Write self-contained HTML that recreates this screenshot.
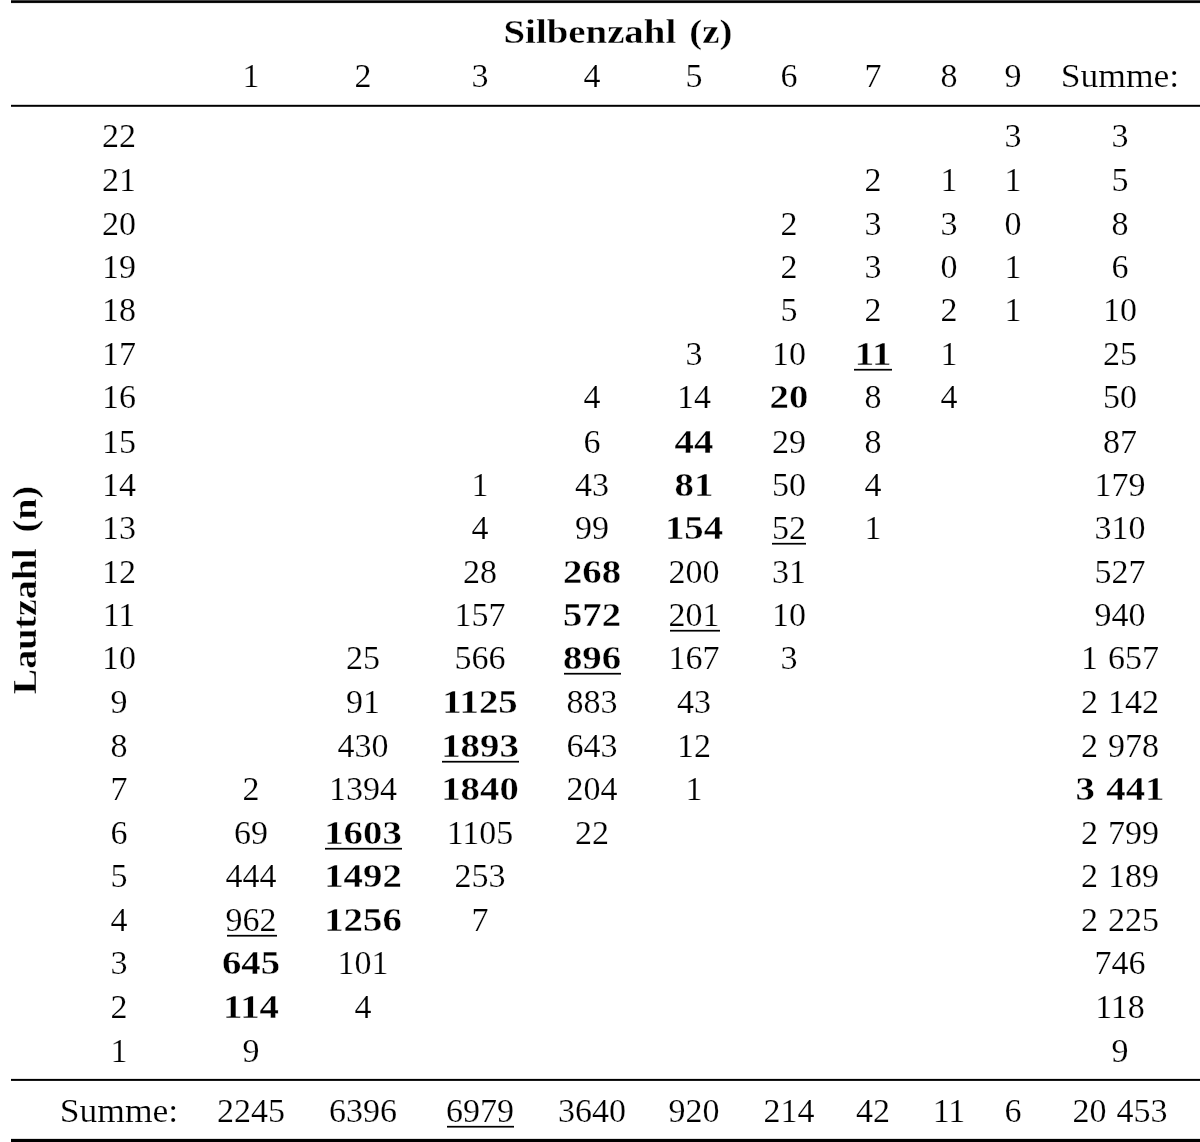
<!DOCTYPE html>
<html><head><meta charset="utf-8"><style>
html,body{margin:0;padding:0;background:#fff;}
body{width:1200px;height:1142px;position:relative;overflow:hidden;font-family:"Liberation Serif",serif;color:#000;}
#w{position:absolute;left:0;top:0;width:1200px;height:1142px;will-change:transform;}
.c{position:absolute;width:300px;text-align:center;white-space:nowrap;}
.ul{position:absolute;left:0;right:0;background:#000;display:block;}
.r{position:absolute;background:#000;}
.rot{position:absolute;white-space:nowrap;font-weight:bold;}
</style></head><body><div id="w">
<div class="r" style="left:11px;top:0;width:1189px;height:1px;background:#454545"></div>
<div class="r" style="left:11px;top:1px;width:1189px;height:1px"></div>
<div class="r" style="left:11px;top:2px;width:1189px;height:1px;background:#111"></div>
<div class="r" style="left:11px;top:3px;width:1189px;height:1px;background:#ececec"></div>
<div class="r" style="left:11px;top:104px;width:1189px;height:1px;background:#d0d0d0"></div>
<div class="r" style="left:11px;top:105px;width:1189px;height:1px"></div>
<div class="r" style="left:11px;top:106px;width:1189px;height:1px;background:#333"></div>
<div class="r" style="left:11px;top:1078px;width:1189px;height:1px;background:#e4e4e4"></div>
<div class="r" style="left:11px;top:1079px;width:1189px;height:1px"></div>
<div class="r" style="left:11px;top:1080px;width:1189px;height:1px;background:#1a1a1a"></div>
<div class="r" style="left:11px;top:1138px;width:1189px;height:1px;background:#e0e0e0"></div>
<div class="r" style="left:11px;top:1139px;width:1189px;height:3px"></div>
<div class="rot" style="left:35.50px;top:561.84px;width:300px;text-align:center;-webkit-text-stroke:0.3px #fff;font-size:33.5px;line-height:33.5px;transform:translate(-150px,0) rotate(-90deg) scale(1.134,1);transform-origin:150px 28.06px;">Lautzahl<i style="display:inline-block;width:14.2px"></i>(n)</div>
<div class="c" style="left:467.60px;top:16.00px;font-size:33px;line-height:33px;font-weight:bold;-webkit-text-stroke:0.3px #fff;transform:scale(1.177,1);transform-origin:150px 27.64px;">Silbenzahl<i style="display:inline-block;width:11.2px"></i>(z)</div>
<div class="c" style="left:101.30px;top:58.00px;font-size:34.6px;line-height:34.6px;-webkit-text-stroke:0.2px #fff;transform:scale(0.983,1);transform-origin:150px 28.98px;">1</div>
<div class="c" style="left:212.85px;top:58.00px;font-size:34.6px;line-height:34.6px;-webkit-text-stroke:0.2px #fff;transform:scale(0.983,1);transform-origin:150px 28.98px;">2</div>
<div class="c" style="left:330.15px;top:58.00px;font-size:34.6px;line-height:34.6px;-webkit-text-stroke:0.2px #fff;transform:scale(0.983,1);transform-origin:150px 28.98px;">3</div>
<div class="c" style="left:442.15px;top:58.00px;font-size:34.6px;line-height:34.6px;-webkit-text-stroke:0.2px #fff;transform:scale(0.983,1);transform-origin:150px 28.98px;">4</div>
<div class="c" style="left:544.20px;top:58.00px;font-size:34.6px;line-height:34.6px;-webkit-text-stroke:0.2px #fff;transform:scale(0.983,1);transform-origin:150px 28.98px;">5</div>
<div class="c" style="left:638.60px;top:58.00px;font-size:34.6px;line-height:34.6px;-webkit-text-stroke:0.2px #fff;transform:scale(0.983,1);transform-origin:150px 28.98px;">6</div>
<div class="c" style="left:722.80px;top:58.00px;font-size:34.6px;line-height:34.6px;-webkit-text-stroke:0.2px #fff;transform:scale(0.983,1);transform-origin:150px 28.98px;">7</div>
<div class="c" style="left:798.50px;top:58.00px;font-size:34.6px;line-height:34.6px;-webkit-text-stroke:0.2px #fff;transform:scale(0.983,1);transform-origin:150px 28.98px;">8</div>
<div class="c" style="left:863.40px;top:58.00px;font-size:34.6px;line-height:34.6px;-webkit-text-stroke:0.2px #fff;transform:scale(0.983,1);transform-origin:150px 28.98px;">9</div>
<div class="c" style="left:970.30px;top:58.00px;font-size:34.6px;line-height:34.6px;-webkit-text-stroke:0.2px #fff;transform:scale(1.027,1);transform-origin:150px 28.98px;">Summe:</div>
<div class="c" style="left:-31.30px;top:118.00px;font-size:34.6px;line-height:34.6px;-webkit-text-stroke:0.2px #fff;transform:scale(0.983,1);transform-origin:150px 28.98px;">22</div>
<div class="c" style="left:863.40px;top:118.00px;font-size:34.6px;line-height:34.6px;-webkit-text-stroke:0.2px #fff;transform:scale(0.983,1);transform-origin:150px 28.98px;">3</div>
<div class="c" style="left:970.30px;top:118.00px;font-size:34.6px;line-height:34.6px;-webkit-text-stroke:0.2px #fff;transform:scale(0.983,1);transform-origin:150px 28.98px;">3</div>
<div class="c" style="left:-31.30px;top:162.00px;font-size:34.6px;line-height:34.6px;-webkit-text-stroke:0.2px #fff;transform:scale(0.983,1);transform-origin:150px 28.98px;">21</div>
<div class="c" style="left:722.80px;top:162.00px;font-size:34.6px;line-height:34.6px;-webkit-text-stroke:0.2px #fff;transform:scale(0.983,1);transform-origin:150px 28.98px;">2</div>
<div class="c" style="left:798.50px;top:162.00px;font-size:34.6px;line-height:34.6px;-webkit-text-stroke:0.2px #fff;transform:scale(0.983,1);transform-origin:150px 28.98px;">1</div>
<div class="c" style="left:863.40px;top:162.00px;font-size:34.6px;line-height:34.6px;-webkit-text-stroke:0.2px #fff;transform:scale(0.983,1);transform-origin:150px 28.98px;">1</div>
<div class="c" style="left:970.30px;top:162.00px;font-size:34.6px;line-height:34.6px;-webkit-text-stroke:0.2px #fff;transform:scale(0.983,1);transform-origin:150px 28.98px;">5</div>
<div class="c" style="left:-31.30px;top:206.00px;font-size:34.6px;line-height:34.6px;-webkit-text-stroke:0.2px #fff;transform:scale(0.983,1);transform-origin:150px 28.98px;">20</div>
<div class="c" style="left:638.60px;top:206.00px;font-size:34.6px;line-height:34.6px;-webkit-text-stroke:0.2px #fff;transform:scale(0.983,1);transform-origin:150px 28.98px;">2</div>
<div class="c" style="left:722.80px;top:206.00px;font-size:34.6px;line-height:34.6px;-webkit-text-stroke:0.2px #fff;transform:scale(0.983,1);transform-origin:150px 28.98px;">3</div>
<div class="c" style="left:798.50px;top:206.00px;font-size:34.6px;line-height:34.6px;-webkit-text-stroke:0.2px #fff;transform:scale(0.983,1);transform-origin:150px 28.98px;">3</div>
<div class="c" style="left:863.40px;top:206.00px;font-size:34.6px;line-height:34.6px;-webkit-text-stroke:0.2px #fff;transform:scale(0.983,1);transform-origin:150px 28.98px;">0</div>
<div class="c" style="left:970.30px;top:206.00px;font-size:34.6px;line-height:34.6px;-webkit-text-stroke:0.2px #fff;transform:scale(0.983,1);transform-origin:150px 28.98px;">8</div>
<div class="c" style="left:-31.30px;top:249.00px;font-size:34.6px;line-height:34.6px;-webkit-text-stroke:0.2px #fff;transform:scale(0.983,1);transform-origin:150px 28.98px;">19</div>
<div class="c" style="left:638.60px;top:249.00px;font-size:34.6px;line-height:34.6px;-webkit-text-stroke:0.2px #fff;transform:scale(0.983,1);transform-origin:150px 28.98px;">2</div>
<div class="c" style="left:722.80px;top:249.00px;font-size:34.6px;line-height:34.6px;-webkit-text-stroke:0.2px #fff;transform:scale(0.983,1);transform-origin:150px 28.98px;">3</div>
<div class="c" style="left:798.50px;top:249.00px;font-size:34.6px;line-height:34.6px;-webkit-text-stroke:0.2px #fff;transform:scale(0.983,1);transform-origin:150px 28.98px;">0</div>
<div class="c" style="left:863.40px;top:249.00px;font-size:34.6px;line-height:34.6px;-webkit-text-stroke:0.2px #fff;transform:scale(0.983,1);transform-origin:150px 28.98px;">1</div>
<div class="c" style="left:970.30px;top:249.00px;font-size:34.6px;line-height:34.6px;-webkit-text-stroke:0.2px #fff;transform:scale(0.983,1);transform-origin:150px 28.98px;">6</div>
<div class="c" style="left:-31.30px;top:292.00px;font-size:34.6px;line-height:34.6px;-webkit-text-stroke:0.2px #fff;transform:scale(0.983,1);transform-origin:150px 28.98px;">18</div>
<div class="c" style="left:638.60px;top:292.00px;font-size:34.6px;line-height:34.6px;-webkit-text-stroke:0.2px #fff;transform:scale(0.983,1);transform-origin:150px 28.98px;">5</div>
<div class="c" style="left:722.80px;top:292.00px;font-size:34.6px;line-height:34.6px;-webkit-text-stroke:0.2px #fff;transform:scale(0.983,1);transform-origin:150px 28.98px;">2</div>
<div class="c" style="left:798.50px;top:292.00px;font-size:34.6px;line-height:34.6px;-webkit-text-stroke:0.2px #fff;transform:scale(0.983,1);transform-origin:150px 28.98px;">2</div>
<div class="c" style="left:863.40px;top:292.00px;font-size:34.6px;line-height:34.6px;-webkit-text-stroke:0.2px #fff;transform:scale(0.983,1);transform-origin:150px 28.98px;">1</div>
<div class="c" style="left:970.30px;top:292.00px;font-size:34.6px;line-height:34.6px;-webkit-text-stroke:0.2px #fff;transform:scale(0.983,1);transform-origin:150px 28.98px;">10</div>
<div class="c" style="left:-31.30px;top:336.00px;font-size:34.6px;line-height:34.6px;-webkit-text-stroke:0.2px #fff;transform:scale(0.983,1);transform-origin:150px 28.98px;">17</div>
<div class="c" style="left:544.20px;top:336.00px;font-size:34.6px;line-height:34.6px;-webkit-text-stroke:0.2px #fff;transform:scale(0.983,1);transform-origin:150px 28.98px;">3</div>
<div class="c" style="left:638.60px;top:336.00px;font-size:34.6px;line-height:34.6px;-webkit-text-stroke:0.2px #fff;transform:scale(0.983,1);transform-origin:150px 28.98px;">10</div>
<div class="c" style="left:722.80px;top:337.00px;font-size:34px;line-height:34px;font-weight:bold;-webkit-text-stroke:0.35px #fff;transform:scale(1.14,1);transform-origin:150px 28.48px;">11</div>
<div class="r" style="left:853.90px;top:368px;width:38.60px;height:1px;background:#dcdcdc"></div>
<div class="r" style="left:853.90px;top:369px;width:38.60px;height:1px;background:#000"></div>
<div class="r" style="left:853.90px;top:370px;width:38.60px;height:1px;background:#6a6a6a"></div>
<div class="c" style="left:798.50px;top:336.00px;font-size:34.6px;line-height:34.6px;-webkit-text-stroke:0.2px #fff;transform:scale(0.983,1);transform-origin:150px 28.98px;">1</div>
<div class="c" style="left:970.30px;top:336.00px;font-size:34.6px;line-height:34.6px;-webkit-text-stroke:0.2px #fff;transform:scale(0.983,1);transform-origin:150px 28.98px;">25</div>
<div class="c" style="left:-31.30px;top:379.00px;font-size:34.6px;line-height:34.6px;-webkit-text-stroke:0.2px #fff;transform:scale(0.983,1);transform-origin:150px 28.98px;">16</div>
<div class="c" style="left:442.15px;top:379.00px;font-size:34.6px;line-height:34.6px;-webkit-text-stroke:0.2px #fff;transform:scale(0.983,1);transform-origin:150px 28.98px;">4</div>
<div class="c" style="left:544.20px;top:379.00px;font-size:34.6px;line-height:34.6px;-webkit-text-stroke:0.2px #fff;transform:scale(0.983,1);transform-origin:150px 28.98px;">14</div>
<div class="c" style="left:638.60px;top:380.00px;font-size:34px;line-height:34px;font-weight:bold;-webkit-text-stroke:0.35px #fff;transform:scale(1.14,1);transform-origin:150px 28.48px;">20</div>
<div class="c" style="left:722.80px;top:379.00px;font-size:34.6px;line-height:34.6px;-webkit-text-stroke:0.2px #fff;transform:scale(0.983,1);transform-origin:150px 28.98px;">8</div>
<div class="c" style="left:798.50px;top:379.00px;font-size:34.6px;line-height:34.6px;-webkit-text-stroke:0.2px #fff;transform:scale(0.983,1);transform-origin:150px 28.98px;">4</div>
<div class="c" style="left:970.30px;top:379.00px;font-size:34.6px;line-height:34.6px;-webkit-text-stroke:0.2px #fff;transform:scale(0.983,1);transform-origin:150px 28.98px;">50</div>
<div class="c" style="left:-31.30px;top:424.00px;font-size:34.6px;line-height:34.6px;-webkit-text-stroke:0.2px #fff;transform:scale(0.983,1);transform-origin:150px 28.98px;">15</div>
<div class="c" style="left:442.15px;top:424.00px;font-size:34.6px;line-height:34.6px;-webkit-text-stroke:0.2px #fff;transform:scale(0.983,1);transform-origin:150px 28.98px;">6</div>
<div class="c" style="left:544.20px;top:425.00px;font-size:34px;line-height:34px;font-weight:bold;-webkit-text-stroke:0.35px #fff;transform:scale(1.14,1);transform-origin:150px 28.48px;">44</div>
<div class="c" style="left:638.60px;top:424.00px;font-size:34.6px;line-height:34.6px;-webkit-text-stroke:0.2px #fff;transform:scale(0.983,1);transform-origin:150px 28.98px;">29</div>
<div class="c" style="left:722.80px;top:424.00px;font-size:34.6px;line-height:34.6px;-webkit-text-stroke:0.2px #fff;transform:scale(0.983,1);transform-origin:150px 28.98px;">8</div>
<div class="c" style="left:970.30px;top:424.00px;font-size:34.6px;line-height:34.6px;-webkit-text-stroke:0.2px #fff;transform:scale(0.983,1);transform-origin:150px 28.98px;">87</div>
<div class="c" style="left:-31.30px;top:467.00px;font-size:34.6px;line-height:34.6px;-webkit-text-stroke:0.2px #fff;transform:scale(0.983,1);transform-origin:150px 28.98px;">14</div>
<div class="c" style="left:330.15px;top:467.00px;font-size:34.6px;line-height:34.6px;-webkit-text-stroke:0.2px #fff;transform:scale(0.983,1);transform-origin:150px 28.98px;">1</div>
<div class="c" style="left:442.15px;top:467.00px;font-size:34.6px;line-height:34.6px;-webkit-text-stroke:0.2px #fff;transform:scale(0.983,1);transform-origin:150px 28.98px;">43</div>
<div class="c" style="left:544.20px;top:468.00px;font-size:34px;line-height:34px;font-weight:bold;-webkit-text-stroke:0.35px #fff;transform:scale(1.14,1);transform-origin:150px 28.48px;">81</div>
<div class="c" style="left:638.60px;top:467.00px;font-size:34.6px;line-height:34.6px;-webkit-text-stroke:0.2px #fff;transform:scale(0.983,1);transform-origin:150px 28.98px;">50</div>
<div class="c" style="left:722.80px;top:467.00px;font-size:34.6px;line-height:34.6px;-webkit-text-stroke:0.2px #fff;transform:scale(0.983,1);transform-origin:150px 28.98px;">4</div>
<div class="c" style="left:970.30px;top:467.00px;font-size:34.6px;line-height:34.6px;-webkit-text-stroke:0.2px #fff;transform:scale(0.983,1);transform-origin:150px 28.98px;">179</div>
<div class="c" style="left:-31.30px;top:510.00px;font-size:34.6px;line-height:34.6px;-webkit-text-stroke:0.2px #fff;transform:scale(0.983,1);transform-origin:150px 28.98px;">13</div>
<div class="c" style="left:330.15px;top:510.00px;font-size:34.6px;line-height:34.6px;-webkit-text-stroke:0.2px #fff;transform:scale(0.983,1);transform-origin:150px 28.98px;">4</div>
<div class="c" style="left:442.15px;top:510.00px;font-size:34.6px;line-height:34.6px;-webkit-text-stroke:0.2px #fff;transform:scale(0.983,1);transform-origin:150px 28.98px;">99</div>
<div class="c" style="left:544.20px;top:511.00px;font-size:34px;line-height:34px;font-weight:bold;-webkit-text-stroke:0.35px #fff;transform:scale(1.14,1);transform-origin:150px 28.48px;">154</div>
<div class="c" style="left:638.60px;top:510.00px;font-size:34.6px;line-height:34.6px;-webkit-text-stroke:0.2px #fff;transform:scale(0.983,1);transform-origin:150px 28.98px;">52</div>
<div class="r" style="left:772.30px;top:542px;width:33.40px;height:1px;background:#dcdcdc"></div>
<div class="r" style="left:772.30px;top:543px;width:33.40px;height:1px;background:#000"></div>
<div class="r" style="left:772.30px;top:544px;width:33.40px;height:1px;background:#6a6a6a"></div>
<div class="c" style="left:722.80px;top:510.00px;font-size:34.6px;line-height:34.6px;-webkit-text-stroke:0.2px #fff;transform:scale(0.983,1);transform-origin:150px 28.98px;">1</div>
<div class="c" style="left:970.30px;top:510.00px;font-size:34.6px;line-height:34.6px;-webkit-text-stroke:0.2px #fff;transform:scale(0.983,1);transform-origin:150px 28.98px;">310</div>
<div class="c" style="left:-31.30px;top:554.00px;font-size:34.6px;line-height:34.6px;-webkit-text-stroke:0.2px #fff;transform:scale(0.983,1);transform-origin:150px 28.98px;">12</div>
<div class="c" style="left:330.15px;top:554.00px;font-size:34.6px;line-height:34.6px;-webkit-text-stroke:0.2px #fff;transform:scale(0.983,1);transform-origin:150px 28.98px;">28</div>
<div class="c" style="left:442.15px;top:555.00px;font-size:34px;line-height:34px;font-weight:bold;-webkit-text-stroke:0.35px #fff;transform:scale(1.14,1);transform-origin:150px 28.48px;">268</div>
<div class="c" style="left:544.20px;top:554.00px;font-size:34.6px;line-height:34.6px;-webkit-text-stroke:0.2px #fff;transform:scale(0.983,1);transform-origin:150px 28.98px;">200</div>
<div class="c" style="left:638.60px;top:554.00px;font-size:34.6px;line-height:34.6px;-webkit-text-stroke:0.2px #fff;transform:scale(0.983,1);transform-origin:150px 28.98px;">31</div>
<div class="c" style="left:970.30px;top:554.00px;font-size:34.6px;line-height:34.6px;-webkit-text-stroke:0.2px #fff;transform:scale(0.983,1);transform-origin:150px 28.98px;">527</div>
<div class="c" style="left:-31.30px;top:597.00px;font-size:34.6px;line-height:34.6px;-webkit-text-stroke:0.2px #fff;transform:scale(0.983,1);transform-origin:150px 28.98px;">11</div>
<div class="c" style="left:330.15px;top:597.00px;font-size:34.6px;line-height:34.6px;-webkit-text-stroke:0.2px #fff;transform:scale(0.983,1);transform-origin:150px 28.98px;">157</div>
<div class="c" style="left:442.15px;top:598.00px;font-size:34px;line-height:34px;font-weight:bold;-webkit-text-stroke:0.35px #fff;transform:scale(1.14,1);transform-origin:150px 28.48px;">572</div>
<div class="c" style="left:544.20px;top:597.00px;font-size:34.6px;line-height:34.6px;-webkit-text-stroke:0.2px #fff;transform:scale(0.983,1);transform-origin:150px 28.98px;">201</div>
<div class="r" style="left:669.55px;top:629px;width:50.10px;height:1px;background:#dcdcdc"></div>
<div class="r" style="left:669.55px;top:630px;width:50.10px;height:1px;background:#000"></div>
<div class="r" style="left:669.55px;top:631px;width:50.10px;height:1px;background:#6a6a6a"></div>
<div class="c" style="left:638.60px;top:597.00px;font-size:34.6px;line-height:34.6px;-webkit-text-stroke:0.2px #fff;transform:scale(0.983,1);transform-origin:150px 28.98px;">10</div>
<div class="c" style="left:970.30px;top:597.00px;font-size:34.6px;line-height:34.6px;-webkit-text-stroke:0.2px #fff;transform:scale(0.983,1);transform-origin:150px 28.98px;">940</div>
<div class="c" style="left:-31.30px;top:640.00px;font-size:34.6px;line-height:34.6px;-webkit-text-stroke:0.2px #fff;transform:scale(0.983,1);transform-origin:150px 28.98px;">10</div>
<div class="c" style="left:212.85px;top:640.00px;font-size:34.6px;line-height:34.6px;-webkit-text-stroke:0.2px #fff;transform:scale(0.983,1);transform-origin:150px 28.98px;">25</div>
<div class="c" style="left:330.15px;top:640.00px;font-size:34.6px;line-height:34.6px;-webkit-text-stroke:0.2px #fff;transform:scale(0.983,1);transform-origin:150px 28.98px;">566</div>
<div class="c" style="left:442.15px;top:641.00px;font-size:34px;line-height:34px;font-weight:bold;-webkit-text-stroke:0.35px #fff;transform:scale(1.14,1);transform-origin:150px 28.48px;">896</div>
<div class="r" style="left:563.60px;top:672px;width:57.90px;height:1px;background:#dcdcdc"></div>
<div class="r" style="left:563.60px;top:673px;width:57.90px;height:1px;background:#000"></div>
<div class="r" style="left:563.60px;top:674px;width:57.90px;height:1px;background:#6a6a6a"></div>
<div class="c" style="left:544.20px;top:640.00px;font-size:34.6px;line-height:34.6px;-webkit-text-stroke:0.2px #fff;transform:scale(0.983,1);transform-origin:150px 28.98px;">167</div>
<div class="c" style="left:638.60px;top:640.00px;font-size:34.6px;line-height:34.6px;-webkit-text-stroke:0.2px #fff;transform:scale(0.983,1);transform-origin:150px 28.98px;">3</div>
<div class="c" style="left:970.30px;top:640.00px;font-size:34.6px;line-height:34.6px;-webkit-text-stroke:0.2px #fff;transform:scale(0.983,1);transform-origin:150px 28.98px;">1<i style="display:inline-block;width:10px"></i>657</div>
<div class="c" style="left:-31.30px;top:684.00px;font-size:34.6px;line-height:34.6px;-webkit-text-stroke:0.2px #fff;transform:scale(0.983,1);transform-origin:150px 28.98px;">9</div>
<div class="c" style="left:212.85px;top:684.00px;font-size:34.6px;line-height:34.6px;-webkit-text-stroke:0.2px #fff;transform:scale(0.983,1);transform-origin:150px 28.98px;">91</div>
<div class="c" style="left:330.15px;top:685.00px;font-size:34px;line-height:34px;font-weight:bold;-webkit-text-stroke:0.35px #fff;transform:scale(1.14,1);transform-origin:150px 28.48px;">1125</div>
<div class="c" style="left:442.15px;top:684.00px;font-size:34.6px;line-height:34.6px;-webkit-text-stroke:0.2px #fff;transform:scale(0.983,1);transform-origin:150px 28.98px;">883</div>
<div class="c" style="left:544.20px;top:684.00px;font-size:34.6px;line-height:34.6px;-webkit-text-stroke:0.2px #fff;transform:scale(0.983,1);transform-origin:150px 28.98px;">43</div>
<div class="c" style="left:970.30px;top:684.00px;font-size:34.6px;line-height:34.6px;-webkit-text-stroke:0.2px #fff;transform:scale(0.983,1);transform-origin:150px 28.98px;">2<i style="display:inline-block;width:10px"></i>142</div>
<div class="c" style="left:-31.30px;top:728.00px;font-size:34.6px;line-height:34.6px;-webkit-text-stroke:0.2px #fff;transform:scale(0.983,1);transform-origin:150px 28.98px;">8</div>
<div class="c" style="left:212.85px;top:728.00px;font-size:34.6px;line-height:34.6px;-webkit-text-stroke:0.2px #fff;transform:scale(0.983,1);transform-origin:150px 28.98px;">430</div>
<div class="c" style="left:330.15px;top:729.00px;font-size:34px;line-height:34px;font-weight:bold;-webkit-text-stroke:0.35px #fff;transform:scale(1.14,1);transform-origin:150px 28.48px;">1893</div>
<div class="r" style="left:441.95px;top:760px;width:77.20px;height:1px;background:#dcdcdc"></div>
<div class="r" style="left:441.95px;top:761px;width:77.20px;height:1px;background:#000"></div>
<div class="r" style="left:441.95px;top:762px;width:77.20px;height:1px;background:#6a6a6a"></div>
<div class="c" style="left:442.15px;top:728.00px;font-size:34.6px;line-height:34.6px;-webkit-text-stroke:0.2px #fff;transform:scale(0.983,1);transform-origin:150px 28.98px;">643</div>
<div class="c" style="left:544.20px;top:728.00px;font-size:34.6px;line-height:34.6px;-webkit-text-stroke:0.2px #fff;transform:scale(0.983,1);transform-origin:150px 28.98px;">12</div>
<div class="c" style="left:970.30px;top:728.00px;font-size:34.6px;line-height:34.6px;-webkit-text-stroke:0.2px #fff;transform:scale(0.983,1);transform-origin:150px 28.98px;">2<i style="display:inline-block;width:10px"></i>978</div>
<div class="c" style="left:-31.30px;top:771.00px;font-size:34.6px;line-height:34.6px;-webkit-text-stroke:0.2px #fff;transform:scale(0.983,1);transform-origin:150px 28.98px;">7</div>
<div class="c" style="left:101.30px;top:771.00px;font-size:34.6px;line-height:34.6px;-webkit-text-stroke:0.2px #fff;transform:scale(0.983,1);transform-origin:150px 28.98px;">2</div>
<div class="c" style="left:212.85px;top:771.00px;font-size:34.6px;line-height:34.6px;-webkit-text-stroke:0.2px #fff;transform:scale(0.983,1);transform-origin:150px 28.98px;">1394</div>
<div class="c" style="left:330.15px;top:772.00px;font-size:34px;line-height:34px;font-weight:bold;-webkit-text-stroke:0.35px #fff;transform:scale(1.14,1);transform-origin:150px 28.48px;">1840</div>
<div class="c" style="left:442.15px;top:771.00px;font-size:34.6px;line-height:34.6px;-webkit-text-stroke:0.2px #fff;transform:scale(0.983,1);transform-origin:150px 28.98px;">204</div>
<div class="c" style="left:544.20px;top:771.00px;font-size:34.6px;line-height:34.6px;-webkit-text-stroke:0.2px #fff;transform:scale(0.983,1);transform-origin:150px 28.98px;">1</div>
<div class="c" style="left:970.30px;top:772.00px;font-size:34px;line-height:34px;font-weight:bold;-webkit-text-stroke:0.35px #fff;transform:scale(1.14,1);transform-origin:150px 28.48px;">3<i style="display:inline-block;width:10px"></i>441</div>
<div class="c" style="left:-31.30px;top:815.00px;font-size:34.6px;line-height:34.6px;-webkit-text-stroke:0.2px #fff;transform:scale(0.983,1);transform-origin:150px 28.98px;">6</div>
<div class="c" style="left:101.30px;top:815.00px;font-size:34.6px;line-height:34.6px;-webkit-text-stroke:0.2px #fff;transform:scale(0.983,1);transform-origin:150px 28.98px;">69</div>
<div class="c" style="left:212.85px;top:816.00px;font-size:34px;line-height:34px;font-weight:bold;-webkit-text-stroke:0.35px #fff;transform:scale(1.14,1);transform-origin:150px 28.48px;">1603</div>
<div class="r" style="left:324.65px;top:847px;width:77.20px;height:1px;background:#dcdcdc"></div>
<div class="r" style="left:324.65px;top:848px;width:77.20px;height:1px;background:#000"></div>
<div class="r" style="left:324.65px;top:849px;width:77.20px;height:1px;background:#6a6a6a"></div>
<div class="c" style="left:330.15px;top:815.00px;font-size:34.6px;line-height:34.6px;-webkit-text-stroke:0.2px #fff;transform:scale(0.983,1);transform-origin:150px 28.98px;">1105</div>
<div class="c" style="left:442.15px;top:815.00px;font-size:34.6px;line-height:34.6px;-webkit-text-stroke:0.2px #fff;transform:scale(0.983,1);transform-origin:150px 28.98px;">22</div>
<div class="c" style="left:970.30px;top:815.00px;font-size:34.6px;line-height:34.6px;-webkit-text-stroke:0.2px #fff;transform:scale(0.983,1);transform-origin:150px 28.98px;">2<i style="display:inline-block;width:10px"></i>799</div>
<div class="c" style="left:-31.30px;top:858.00px;font-size:34.6px;line-height:34.6px;-webkit-text-stroke:0.2px #fff;transform:scale(0.983,1);transform-origin:150px 28.98px;">5</div>
<div class="c" style="left:101.30px;top:858.00px;font-size:34.6px;line-height:34.6px;-webkit-text-stroke:0.2px #fff;transform:scale(0.983,1);transform-origin:150px 28.98px;">444</div>
<div class="c" style="left:212.85px;top:859.00px;font-size:34px;line-height:34px;font-weight:bold;-webkit-text-stroke:0.35px #fff;transform:scale(1.14,1);transform-origin:150px 28.48px;">1492</div>
<div class="c" style="left:330.15px;top:858.00px;font-size:34.6px;line-height:34.6px;-webkit-text-stroke:0.2px #fff;transform:scale(0.983,1);transform-origin:150px 28.98px;">253</div>
<div class="c" style="left:970.30px;top:858.00px;font-size:34.6px;line-height:34.6px;-webkit-text-stroke:0.2px #fff;transform:scale(0.983,1);transform-origin:150px 28.98px;">2<i style="display:inline-block;width:10px"></i>189</div>
<div class="c" style="left:-31.30px;top:902.00px;font-size:34.6px;line-height:34.6px;-webkit-text-stroke:0.2px #fff;transform:scale(0.983,1);transform-origin:150px 28.98px;">4</div>
<div class="c" style="left:101.30px;top:902.00px;font-size:34.6px;line-height:34.6px;-webkit-text-stroke:0.2px #fff;transform:scale(0.983,1);transform-origin:150px 28.98px;">962</div>
<div class="r" style="left:226.65px;top:934px;width:50.10px;height:1px;background:#dcdcdc"></div>
<div class="r" style="left:226.65px;top:935px;width:50.10px;height:1px;background:#000"></div>
<div class="r" style="left:226.65px;top:936px;width:50.10px;height:1px;background:#6a6a6a"></div>
<div class="c" style="left:212.85px;top:903.00px;font-size:34px;line-height:34px;font-weight:bold;-webkit-text-stroke:0.35px #fff;transform:scale(1.14,1);transform-origin:150px 28.48px;">1256</div>
<div class="c" style="left:330.15px;top:902.00px;font-size:34.6px;line-height:34.6px;-webkit-text-stroke:0.2px #fff;transform:scale(0.983,1);transform-origin:150px 28.98px;">7</div>
<div class="c" style="left:970.30px;top:902.00px;font-size:34.6px;line-height:34.6px;-webkit-text-stroke:0.2px #fff;transform:scale(0.983,1);transform-origin:150px 28.98px;">2<i style="display:inline-block;width:10px"></i>225</div>
<div class="c" style="left:-31.30px;top:945.00px;font-size:34.6px;line-height:34.6px;-webkit-text-stroke:0.2px #fff;transform:scale(0.983,1);transform-origin:150px 28.98px;">3</div>
<div class="c" style="left:101.30px;top:946.00px;font-size:34px;line-height:34px;font-weight:bold;-webkit-text-stroke:0.35px #fff;transform:scale(1.14,1);transform-origin:150px 28.48px;">645</div>
<div class="c" style="left:212.85px;top:945.00px;font-size:34.6px;line-height:34.6px;-webkit-text-stroke:0.2px #fff;transform:scale(0.983,1);transform-origin:150px 28.98px;">101</div>
<div class="c" style="left:970.30px;top:945.00px;font-size:34.6px;line-height:34.6px;-webkit-text-stroke:0.2px #fff;transform:scale(0.983,1);transform-origin:150px 28.98px;">746</div>
<div class="c" style="left:-31.30px;top:989.00px;font-size:34.6px;line-height:34.6px;-webkit-text-stroke:0.2px #fff;transform:scale(0.983,1);transform-origin:150px 28.98px;">2</div>
<div class="c" style="left:101.30px;top:990.00px;font-size:34px;line-height:34px;font-weight:bold;-webkit-text-stroke:0.35px #fff;transform:scale(1.14,1);transform-origin:150px 28.48px;">114</div>
<div class="c" style="left:212.85px;top:989.00px;font-size:34.6px;line-height:34.6px;-webkit-text-stroke:0.2px #fff;transform:scale(0.983,1);transform-origin:150px 28.98px;">4</div>
<div class="c" style="left:970.30px;top:989.00px;font-size:34.6px;line-height:34.6px;-webkit-text-stroke:0.2px #fff;transform:scale(0.983,1);transform-origin:150px 28.98px;">118</div>
<div class="c" style="left:-31.30px;top:1033.00px;font-size:34.6px;line-height:34.6px;-webkit-text-stroke:0.2px #fff;transform:scale(0.983,1);transform-origin:150px 28.98px;">1</div>
<div class="c" style="left:101.30px;top:1033.00px;font-size:34.6px;line-height:34.6px;-webkit-text-stroke:0.2px #fff;transform:scale(0.983,1);transform-origin:150px 28.98px;">9</div>
<div class="c" style="left:970.30px;top:1033.00px;font-size:34.6px;line-height:34.6px;-webkit-text-stroke:0.2px #fff;transform:scale(0.983,1);transform-origin:150px 28.98px;">9</div>
<div class="c" style="left:-31.30px;top:1093.00px;font-size:34.6px;line-height:34.6px;-webkit-text-stroke:0.2px #fff;transform:scale(1.027,1);transform-origin:150px 28.98px;">Summe:</div>
<div class="c" style="left:101.30px;top:1093.00px;font-size:34.6px;line-height:34.6px;-webkit-text-stroke:0.2px #fff;transform:scale(0.983,1);transform-origin:150px 28.98px;">2245</div>
<div class="c" style="left:212.85px;top:1093.00px;font-size:34.6px;line-height:34.6px;-webkit-text-stroke:0.2px #fff;transform:scale(0.983,1);transform-origin:150px 28.98px;">6396</div>
<div class="c" style="left:330.15px;top:1093.00px;font-size:34.6px;line-height:34.6px;-webkit-text-stroke:0.2px #fff;transform:scale(0.983,1);transform-origin:150px 28.98px;">6979</div>
<div class="r" style="left:447.15px;top:1125px;width:66.80px;height:1px;background:#dcdcdc"></div>
<div class="r" style="left:447.15px;top:1126px;width:66.80px;height:1px;background:#000"></div>
<div class="r" style="left:447.15px;top:1127px;width:66.80px;height:1px;background:#6a6a6a"></div>
<div class="c" style="left:442.15px;top:1093.00px;font-size:34.6px;line-height:34.6px;-webkit-text-stroke:0.2px #fff;transform:scale(0.983,1);transform-origin:150px 28.98px;">3640</div>
<div class="c" style="left:544.20px;top:1093.00px;font-size:34.6px;line-height:34.6px;-webkit-text-stroke:0.2px #fff;transform:scale(0.983,1);transform-origin:150px 28.98px;">920</div>
<div class="c" style="left:638.60px;top:1093.00px;font-size:34.6px;line-height:34.6px;-webkit-text-stroke:0.2px #fff;transform:scale(0.983,1);transform-origin:150px 28.98px;">214</div>
<div class="c" style="left:722.80px;top:1093.00px;font-size:34.6px;line-height:34.6px;-webkit-text-stroke:0.2px #fff;transform:scale(0.983,1);transform-origin:150px 28.98px;">42</div>
<div class="c" style="left:798.50px;top:1093.00px;font-size:34.6px;line-height:34.6px;-webkit-text-stroke:0.2px #fff;transform:scale(0.983,1);transform-origin:150px 28.98px;">11</div>
<div class="c" style="left:863.40px;top:1093.00px;font-size:34.6px;line-height:34.6px;-webkit-text-stroke:0.2px #fff;transform:scale(0.983,1);transform-origin:150px 28.98px;">6</div>
<div class="c" style="left:970.30px;top:1093.00px;font-size:34.6px;line-height:34.6px;-webkit-text-stroke:0.2px #fff;transform:scale(0.983,1);transform-origin:150px 28.98px;">20<i style="display:inline-block;width:10px"></i>453</div>
</div></body></html>
